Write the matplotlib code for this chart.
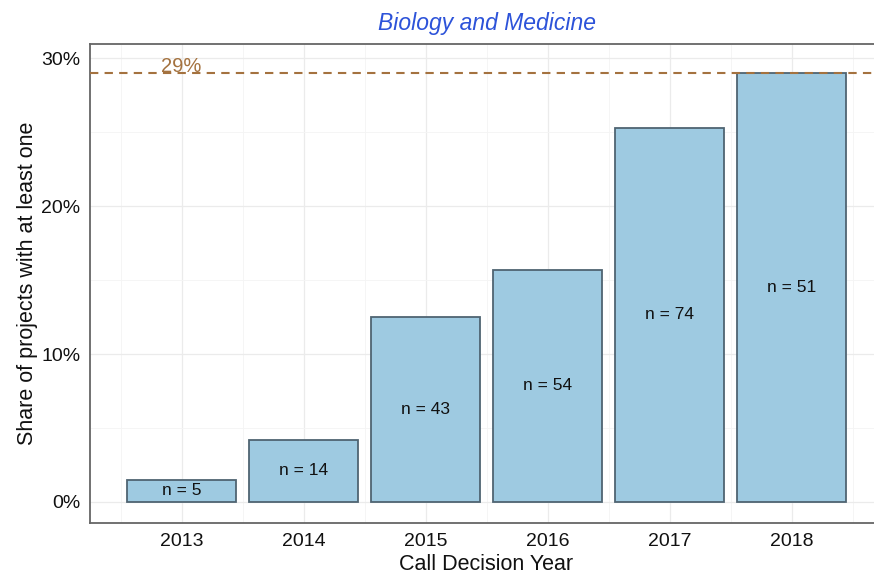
import matplotlib.pyplot as plt
from matplotlib.ticker import FuncFormatter, MultipleLocator

years = ['2013', '2014', '2015', '2016', '2017', '2018']
share = [1.5, 4.2, 12.5, 15.7, 25.3, 29.0]
counts = [5, 14, 43, 54, 74, 51]
max_share = 29.0

plt.rcParams['font.family'] = ['Liberation Sans', 'DejaVu Sans']

fig = plt.figure(figsize=(8.74, 5.79), dpi=100)
# panel runs a little past the right edge of the image, as in the source
ax = fig.add_axes([90 / 874, 1 - 523 / 579, 793 / 874, 479 / 579])

x = list(range(len(years)))
ax.bar(x, share, width=0.9, color='#9ecae1', edgecolor='#4f6472', linewidth=1.3, zorder=3)
for xi, s, n in zip(x, share, counts):
    ax.text(xi, s / 2, f'n = {n}', ha='center', va='center', fontsize=12.5, color='#111111', zorder=4)

ax.axhline(max_share, color='#a4723f', linestyle=(0, (4, 3)), linewidth=1.5, zorder=4)
ax.text(0, max_share + 0.4, f'{max_share:.0f}%', ha='center', va='center',
        fontsize=14.5, color='#a4723f', zorder=5)

ax.set_xlim(-0.75, 5.75)
ax.set_ylim(-1.42, 30.95)
ax.set_xticks(x)
ax.set_xticklabels(years)
ax.set_xticks([i - 0.5 for i in range(len(years) + 1)], minor=True)
ax.yaxis.set_major_locator(MultipleLocator(10))
ax.yaxis.set_minor_locator(MultipleLocator(5))
ax.yaxis.set_major_formatter(FuncFormatter(lambda v, p: f'{v:.0f}%'))

ax.grid(which='major', color='#ebebeb', linewidth=0.9, zorder=0)
ax.grid(which='minor', color='#f4f4f4', linewidth=0.6, zorder=0)
ax.set_axisbelow(True)
ax.tick_params(which='major', length=0, labelsize=14, labelcolor='#111111', pad=7)
ax.tick_params(which='minor', length=0)

for side in ['left', 'bottom', 'top', 'right']:
    ax.spines[side].set_color('#666666')
    ax.spines[side].set_linewidth(1.3)

ax.set_xlabel('Call Decision Year', fontsize=15.5, color='#111111', labelpad=3)
ax.set_ylabel('Share of projects with at least one', fontsize=15.5, color='#111111', labelpad=2)
ax.set_title('Biology and Medicine', fontsize=16.5, style='italic', color='#2d53d9', pad=10)

fig.savefig('out.png', dpi=100)
